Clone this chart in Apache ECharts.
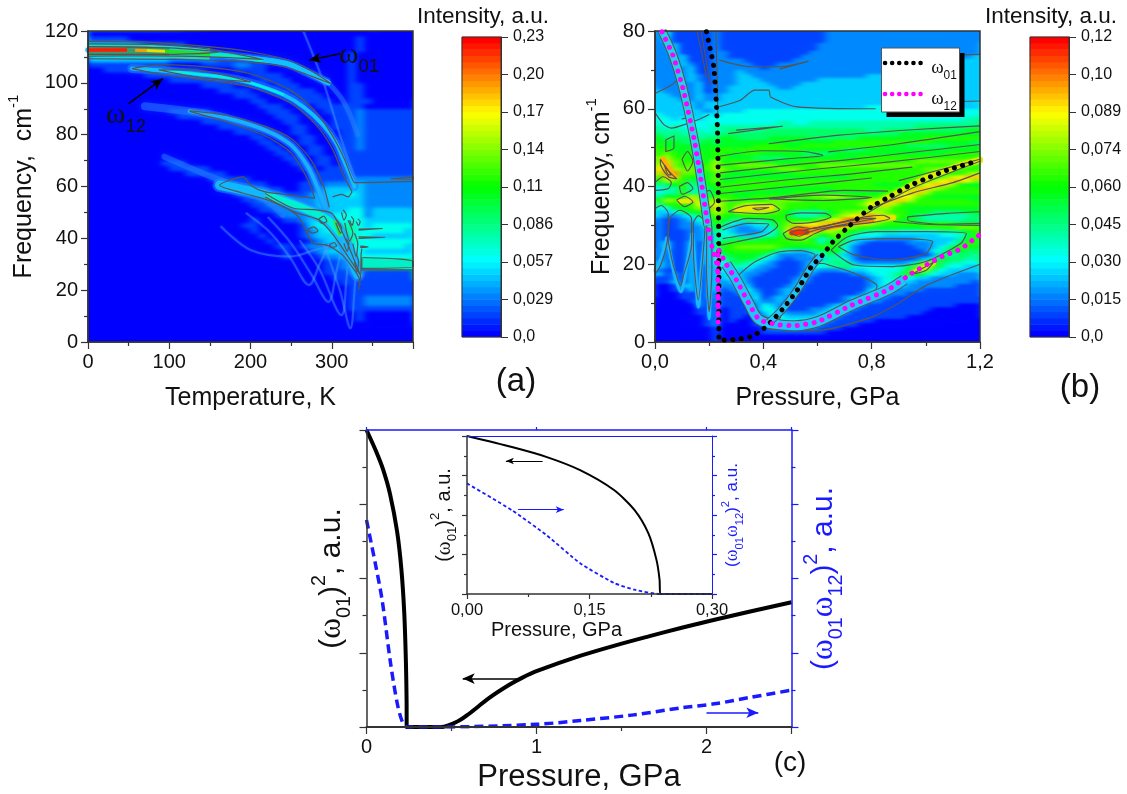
<!DOCTYPE html>
<html><head><meta charset="utf-8">
<style>html,body{margin:0;padding:0;background:#fff}
#c{position:absolute;left:0;top:0;width:1127px;height:794px}
.clip{position:absolute;overflow:hidden;width:325px;height:311px;top:31px}
.soft{position:absolute;left:-20px;top:-20px;width:365px;height:351px}
</style>
<script src="https://cdn.jsdelivr.net/npm/echarts@6/dist/echarts.min.js"></script></head>
<body>
<svg width="0" height="0" style="position:absolute"><defs>
<filter id="fA" x="-10%" y="-10%" width="120%" height="120%" color-interpolation-filters="sRGB"><feGaussianBlur stdDeviation="3 1.5"/></filter>
<filter id="fB" x="-10%" y="-10%" width="120%" height="120%" color-interpolation-filters="sRGB"><feGaussianBlur stdDeviation="3.5 1.1"/></filter>
</defs></svg>
<div class="clip" style="left:88px"><div class="soft" id="heatA" style="filter:url(#fA)"></div></div>
<div class="clip" style="left:655px"><div class="soft" id="heatB" style="filter:url(#fB)"></div></div>
<div id="c"></div>
<script>
// ---------- Panel (a) intensity levels: hex digit = n/15 of the scale max. Rows from f=119 down, 2 cm-1 each; columns 10 K each
const rowsA=[
"0000000000 0000000000 0000000000 0000000000",
"1111100000 0000000000 0000000000 0001000000",
"3333332111 1100000000 0000000000 0001000000",
"4444444444 3321100000 0000000000 0001000000",
"4444444444 3332211100 0000000000 0010000000",
"3333333333 2222221111 0000000000 0010000000",
"1111111111 0000111122 1100000000 0010000000",
"0011111111 1111000011 1100000000 0010000000",
"0000000111 1111100000 1111000000 0010000000",
"0000000000 1111111000 0111100000 0010000000",
"0000000000 0000111100 0001110000 0011000000",
"0000000000 0000001111 0000111100 0011000000",
"0000000000 0000000011 1000011110 0011000000",
"0000000000 0000000000 1100001111 0011100000",
"0000000000 0000000000 0111000011 1111000000",
"0000000000 1111100000 0011100001 1112111111",
"0000000000 0111111000 0001110000 1112111111",
"0000000000 0000111110 0000110000 1112111111",
"0000000000 0000001111 0000011000 1112111111",
"0000000000 0000000011 1000011000 0112111111",
"0000000000 0000000000 1100001100 0112111111",
"0000000000 0000000000 0110001100 0112111111",
"0000000000 0000000000 0011000110 0112111111",
"0000000000 0000000000 0001100110 0111111111",
"0000000000 0000000000 0000110011 0111111111",
"0000000001 1100000000 0000011011 0111111111",
"0000000000 1111100000 0000001101 1111111111",
"0000000000 0011111000 0000000111 1111111111",
"0000000000 0000011111 0000000111 1122222222",
"0000000000 0000001111 1100001112 2223222222",
"0000000000 0000000111 1211001123 3333222222",
"0000000000 0000000011 2222111233 3343222222",
"0000000000 0000000001 1222222233 3333222222",
"0000000000 0000000000 1122222233 3333222222",
"0000000000 0000000000 0112222333 3344233333",
"0000000000 0000000000 0001222333 4444233333",
"0000000000 0000000000 1000112344 4444333333",
"0000000000 0000000001 1000001344 4554344444",
"0000000000 0000000000 1000001234 4554444443",
"0000000000 0000000000 0100001233 4554433333",
"0000000000 0000000000 0010000123 3454444444",
"0000000000 0000000000 0001101222 3444444443",
"0000000000 0000000000 0000100123 3344333333",
"0000000000 0000000000 0000100012 2334444444",
"0000000000 0000000000 0000000001 1234566666",
"0000000000 0000000000 0000000001 1223566665",
"0000000000 0000000000 0000000001 1122111111",
"0000000000 0000000000 0000000000 1111111111",
"0000000000 0000000000 0000000000 0111111111",
"0000000000 0000000000 0000000000 0011111111",
"0000000000 0000000000 0000000000 0011111111",
"0000000000 0000000000 0000000000 0011222222",
"0000000000 0000000000 0000000000 0011222222",
"0000000000 0000000000 0000000000 0011111111",
"0000000000 0000000000 0000000000 0001000000",
"0000000000 0000000000 0000000000 0001000000",
"0000000000 0000000000 0000000000 0000000000",
"0000000000 0000000000 0000000000 0000000000",
"0000000000 0000000000 0000000000 0000000000",
"0000000000 0000000000 0000000000 0000000000"];
// ---------- Panel (b) intensity levels. Rows from f=79.5 down, 1 cm-1 each; columns 0.03 GPa each
const rowsB=[
"24111112 11 111111 111112 222222 222222 222222",
"23111112 11 111111 111112 222222 222222 222222",
"23111112 11 111111 111112 222222 222222 222222",
"22311112 11 111111 111122 222222 222222 222222",
"22311112 11 111111 111122 222222 222222 222222",
"22311112 21 111111 111222 222222 222222 222222",
"22231112 21 111111 112222 222222 222222 222223",
"22231112 22 211111 122222 222222 222222 222333",
"22232112 22 221112 222222 222222 222222 233333",
"22223112 22 222122 222222 222222 222233 333333",
"22223112 22 322222 222222 222222 223333 333333",
"22223212 22 332222 222222 222233 333333 333333",
"22223212 22 333222 222233 333333 333333 333333",
"22222312 22 333322 223333 333333 333333 333333",
"22222312 23 333332 233333 333333 333333 333333",
"32222312 23 333333 333333 333333 333333 333333",
"33222322 33 333333 333333 333333 333333 333333",
"33322322 33 333333 333333 333333 333333 333333",
"33333233 33 333333 333333 333333 333333 333333",
"33333233 33 333333 333333 333344 444444 433333",
"33333323 33 344444 444444 444444 444444 444444",
"43333343 44 444444 444444 444444 444444 444444",
"44344344 44 444444 444444 444444 444444 444455",
"44444444 44 444445 544555 555555 555555 555555",
"54544445 55 555555 555555 555555 555566 666666",
"55554545 56 655666 666666 666655 666666 666677",
"65655555 66 666666 666666 666666 667777 777777",
"76666566 77 666677 777666 666777 777778 888888",
"77766676 77 777777 777777 888888 888888 777776",
"87777777 77 778888 778888 888888 777666 667777",
"88777778 88 888888 887777 766677 777777 777777",
"89878878 87 788777 776666 777777 777777 778888",
"9a887878 87 776666 777777 777888 888888 888888",
"9c98887a 78 888777 778888 888888 888899 999999",
"ac98988a 88 999998 888899 999999 999988 888888",
"bda9998a 98 888889 998888 888888 888889 998888",
"add99879 87 777777 788888 888888 888888 88889a",
"8cc88779 77 777777 777777 778888 888888 89abcc",
"7a986779 77 888888 888888 888888 888889 abccb9",
"56785678 88 888888 888888 888887 77789b cca877",
"45585567 88 888877 777777 888888 889acc a98888",
"45585567 87 777777 788887 777777 89bcca 888888",
"5778a968 88 778888 88899a a98888 abbb98 777777",
"7a98ca9a 98 888899 998888 8888aa bcca88 888887",
"58888b9b 98 9aaa99 888888 8889bc ca8888 888888",
"44778a8c 98 bcdca9 888788 888899 a88777 777777",
"3346778a 98 9aaa98 755557 899aaa 988777 666677",
"32234679 87 888888 755567 9abcdc a98765 555556",
"21123468 76 566678 88789a bdedcb 987765 555566",
"21122358 64 334468 9abbcc ddcba9 888888 888777",
"21122247 53 223358 addccc ba9887 777778 888999",
"21112236 43 222347 bfdb9a 987655 554444 455678",
"21112235 45 333457 9cb978 985444 333333 344468",
"21112235 56 666778 899746 864332 222233 333578",
"23113135 78 888888 888857 853211 111222 334688",
"23113135 88 999998 777788 742111 111122 346887",
"22113135 78 888875 433567 742111 111112 457766",
"22113134 67 777642 222346 532111 111111 365665",
"22113134 56 776432 122235 542111 111123 576655",
"32113134 46 654321 112355 653222 22236a 865544",
"32113123 45 543221 112445 565444 44569b 854433",
"21113123 44 332211 112322 233344 4458a9 543333",
"31213123 34 322111 113211 112234 456875 433222",
"11213123 34 321111 123111 111123 455433 222222",
"11313123 23 421111 132111 111123 443322 222221",
"00133123 22 331111 231111 111123 433222 222111",
"00113123 12 242112 321111 111134 322221 111111",
"00011122 11 233112 311111 111243 222111 111111",
"00011122 11 124123 211111 123432 211111 111111",
"00001212 11 113223 111111 123422 111111 111111",
"00000212 11 112432 111112 343211 111111 111000",
"00000112 01 112442 111223 432111 111111 000000",
"00000112 01 111343 222234 321111 111110 000000",
"00000012 01 101244 333343 211111 111000 000000",
"00000012 01 001234 444432 111110 000000 000000",
"00000012 00 001133 444321 111000 000000 000000",
"00000001 00 000122 332211 100000 000000 000000",
"00000001 00 000111 111110 000000 000000 000000",
"00000001 00 000000 000000 000000 000000 000000",
"00000001 00 000000 000000 000000 000000 000000"];

// ---------- Colorbar tick labels
const ticksBarA=['0,0','0,029','0,057','0,086','0,11','0,14','0,17','0,20','0,23'];
const ticksBarB=['0,0','0,015','0,030','0,045','0,060','0,074','0,089','0,10','0,12'];

// ---------- Panel (a) ridges [T, frequency]
const ridgeA1=[[0,112.7],[50,112.6],[100,112],[150,111],[200,109.5],[244,107.5],[270,104],[296,100]];
const ridgeA1Tail=[[296,100],[312,94],[322,88],[332,80]];
const ridgeA1Hot=[[0,112.7],[50,112.6],[100,112],[150,111]];
const ridgeA1Red=[[0,112.7],[48,112.7]];
const ridgeA1Orange=[[58,112.6],[72,112.5]];
const ridgeA1Yellow=[[72,112.5],[95,112.2]];
const ridgeA1Green=[[95,112.2],[150,111],[175,110.3]];
const ridgeA1Cyan=[[150,111],[190,109.8],[215,108.6]];
const ridgeA2=[[54,105.5],[90,104.8],[130,103.5],[170,102],[200,100],[240,95.5],[266,90.5],[290,83.5],[305,77],[315,70],[323,64],[328,60]];
const ridgeA3=[[70,91],[125,89],[170,86.5],[220,81.5],[250,76],[270,68],[282,60],[292,52]];
const ridgeA4=[[162,60.5],[222,56.5],[262,52],[296,47],[310,42],[320,35],[332,26]];
const ridgeA5=[[94,71.5],[150,64],[200,58],[222,54],[240,49]];
const arcsA=[
[[195,49.6],[225,42],[250,32],[272,22],[285,30],[296,37.4]],
[[222,48],[250,38],[275,26],[296,15.5],[305,26],[312,36.7]],
[[261,39],[285,28],[312,10.4],[318,24],[321,37]],
[[290,38],[310,20],[323,5.3],[328,20],[331,34]],
[[164,44.5],[200,35.5],[248,33],[285,36],[320,38]],
[[265,120],[290,100],[312,78],[330,62]]];
const plateauA=[[337,30.6],[384,30.3],[400,30]];
const contoursA=[
[[0,116],[67,115.8],[155,113.8],[200,112],[244,109],[270,105.5],[299,99.7],[288,101],[244,106],[200,108],[111,109],[0,109.3]],
[[0,115],[80,114.8],[150,113],[215,109],[150,110],[80,110.4],[0,110.3]],
[[0,114],[100,113.5],[160,111.8],[100,111],[0,111]],
[[54,105.5],[90,107],[150,106],[200,103.5],[250,97],[280,89],[300,80],[315,71],[325,63],[328,61.5],[400,62]],
[[54,105.5],[90,103.3],[150,100.8],[200,98.3],[250,92],[280,84],[300,75],[315,64],[325,58]],
[[87,105],[130,105],[200,100.4],[138,102],[87,105]],
[[372,63],[400,63.6],[400,62.8],[372,63]],
[[125,89.2],[170,87.5],[220,83],[250,78.5],[275,70],[290,60],[297,52]],
[[125,89],[170,85],[220,79.3],[250,73],[270,63],[279,55.5]],
[[279,55.4],[240,57],[217,58],[200,60.5],[191,63.7],[162,60.5],[190,57.5],[222,54.7],[257,49],[270,41.9],[277,38],[294,37.4],[313,33.6],[325,29],[333,25.2],[335,22]],
[[301,56],[312,57],[320,56],[325,58]],
[[218,57.3],[253,51.6],[281,51],[300,49.7],[310,44.5],[322,36],[335,26],[320,33],[305,40],[285,47],[255,50],[218,56]],
[[284,47.4],[290,48.6],[294,46.6],[288,45.8],[284,47.4]],
[[270,43.4],[278,44.4],[283,42.8],[276,42],[270,43.4]],
[[297,37.5],[303,38.4],[306,37],[300,36.5],[297,37.5]],
[[305,46],[311,42],[312,44],[306,47]],
[[316,46],[322,39],[326,42],[320,47]],
[[326,38],[330,33],[332,38],[328,42]],
[[312,50],[315,47],[318,49],[314,51]],
[[322,47],[325,45],[327,47],[324,48.5]],
[[330,46.5],[333,45],[335,46.5],[332,47.5]],
[[315,38],[319,35],[321,38],[317,40]],
[[328,31],[331,27],[333,31],[330,34]],
[[333,43.6],[362,43.8],[333,43.2]],
[[333,40.6],[366,40.4],[333,40]],
[[335,37],[345,36.7],[335,36.5]],
[[338,32.6],[384,32],[400,31],[400,29],[337,28.4],[337,32.6]],
[[336,27.8],[400,27.8]],
[[333,20],[336,28],[336,33],[337,36]]];

// ---------- Panel (b) dispersion curves [pressure, frequency]
const omega01B=[[.19,79.8],[.205,75],[.217,70.8],[.226,62],[.231,53.6],[.234,36.5],[.236,19.4],[.236,.5],[.3,.7],[.355,1.4],[.394,3],[.434,5.6],[.473,8.6],[.526,13.4],[.578,19.4],[.624,22.8],[.657,25.8],[.72,30],[.8,34.8],[.867,37.4],[.933,40],[1,42],[1.078,44.2],[1.183,46.4]];
const omega12B=[[.026,79.8],[.066,73.8],[.105,64.8],[.145,52],[.17,41.6],[.204,26.2],[.23,19.4],[.233,5],[.233,24],[.263,20],[.3,16],[.346,10],[.385,5.7],[.46,4.4],[.516,4.2],[.6,5.2],[.727,9.5],[.86,13.4],[.946,17.6],[1.06,22],[1.13,24],[1.197,27.5]];
const bandB12Upper=[[.026,80],[.066,73.8],[.105,64.8],[.145,52],[.17,41.6],[.195,30]];
const bandB12Low=[[.263,20],[.3,16],[.346,10],[.385,5.7],[.46,4.4],[.516,4.2],[.6,5.2],[.727,9.5],[.86,13.4],[.92,16]];
const bandB01Low=[[.42,5],[.473,8.6],[.526,13.4],[.578,19.4],[.61,22]];
const hotRedB=[[.505,28.1],[.56,28.3]];
const hotOrangeB=[[.56,28.5],[.66,29.8],[.74,30.8],[.8,31.4]];
const hotYellowB=[[.8,31.5],[.88,32]];
const yellowRidgeB=[[.82,35.4],[.9,38.4],[1,42.2],[1.1,44.8],[1.2,46.8]];
const yellowBandB=[[.3,34],[.35,34.5],[.43,34.6]];
const yellowPatchB=[[.95,17.9],[1.03,20.2]];
const hotLeftB=[[.03,47],[.05,44.5],[.07,42.6]];
const yellowLeftB=[[.09,36.2],[.125,36.2]];
const archesB=[
[[0,18],[.02,21],[.045,27]],
[[.045,27],[.07,18],[.095,13],[.115,19],[.138,28]],
[[.138,28],[.15,18],[.16,9],[.17,18],[.187,28]],
[[.187,28],[.195,16],[.2,6],[.205,16],[.212,28]]];
const contoursB=[
[[.302,16.8],[.368,20.6],[.46,23.2],[.539,23.5],[.591,22.4],[.585,21.5],[.526,15],[.46,8.2],[.434,5.7],[.381,6.9],[.342,11.7],[.302,16.8]],
[[.624,20.2],[.736,17.7],[.815,15],[.82,14.2],[.736,9.9],[.631,6.5],[.526,5.2],[.46,5.7],[.473,7.8],[.552,15],[.605,20.2],[.624,20.2]],
[[.65,23.6],[.71,27],[.815,28.4],[1,28.4],[1.15,27.9],[1.13,25.4],[1,20.7],[.867,19.4],[.736,19.8],[.65,23.6]],
[[.677,24.5],[.736,26.2],[.867,26.6],[1.025,25.8],[1,22.8],[.867,21.1],[.736,22.4],[.677,24.5]],
[[.243,29.6],[.342,31.8],[.434,31.4],[.453,30],[.407,27.5],[.302,25.8],[.243,24.9]],
[[.25,28.8],[.342,30.5],[.42,30.3],[.394,28.4],[.302,27.2],[.25,26.6]],
[[.484,32.6],[.539,33.2],[.63,33.1],[.65,32.2],[.591,30.9],[.513,30.5],[.484,31.8],[.484,32.6]],
[[.933,32.2],[1.078,33.1],[1.2,33.5]],[[1.2,30.5],[1.065,30.3],[.933,31.4],[.933,32.2]],
[[.473,27.9],[.526,29.6],[.578,29.2],[.67,30.5],[.775,32.2],[.84,32.6],[.867,31.8],[.775,30.5],[.657,29.6],[.591,27.9],[.539,26.2],[.486,26.6],[.473,27.9]],
[[.5,28.1],[.532,28.8],[.565,28.4],[.532,27.2],[.5,28.1]],
[[.552,28.8],[.657,30.3],[.789,31.8],[.815,31.8],[.736,30.7],[.605,29],[.552,27.9]],
[[.24,43.5],[.5,45.5],[.7,46.8],[.95,48.8],[1.2,50.8]],
[[.24,45.5],[.5,47.2],[.62,48],[.55,49],[.4,49.2],[.24,47.8]],
[[.27,53.6],[.47,55.5],[.3,54.5]],
[[.64,48.9],[.9,51],[1.2,54.1]],
[[.42,51],[.68,53.2],[.95,54.6],[1.2,55.6]],
[[.24,41.8],[.6,44.5],[.85,46.2],[1.2,49]],
[[.24,39.8],[.5,41.8],[.72,43.2],[.9,44.6],[.95,45]],
[[.24,38.2],[.5,40],[.8,42.2]],
[[.24,36.2],[.45,37.2],[.7,39],[.86,38.8]],
[[.42,36.8],[.62,37.8],[.8,37.2],[.62,36.4],[.42,36.8]],
[[.27,33.5],[.33,35],[.43,35.4],[.46,34],[.4,33],[.27,33.5]],
[[.36,34.4],[.42,34.6],[.38,34],[.36,34.4]],
[[.78,33],[.9,37.8],[.98,40.5],[1.2,46.5]],
[[.8,34.5],[.95,38.3],[1.1,41],[1.2,43.5]],
[[.9,41.5],[1.08,44.8],[1.2,47]],
[[.88,31],[1,30.3],[1.2,30]],
[[.42,3.3],[.6,3],[.8,6.4],[.9,10],[1,14.5],[1.2,20]],
[[.95,17.5],[1.03,20.6],[1,18.4],[.95,17.5]],
[[0,63.9],[.048,65.6],[.067,66.4],[.09,68]],
[[.237,72.5],[.355,70.8],[.46,70.8],[.565,72.2],[.46,70.2]],
[[.237,60.5],[.315,62.2],[.368,64.8],[.42,64.8],[.427,63],[.526,60.5],[.815,60]],
[[1.1,73.8],[1.2,74]],
[[.85,60],[1,61.5],[1.2,62]],
[[0,59],[.032,56],[.06,55],[.12,56.2],[.17,57.5],[.2,58.5]],
[[.12,61],[.13,58],[.1,57.4],[.13,57.8]],
[[0,41],[.03,42.5],[.06,41],[.05,39.5],[0,39]],
[[.09,40],[.12,41],[.14,39.5],[.1,38],[.09,40]],
[[.02,47],[.05,44],[.08,42],[.05,42.5],[.02,46],[.02,47]],
[[.035,45.5],[.06,43],[.05,43],[.035,45.5]],
[[.08,36.5],[.11,37.5],[.14,36],[.11,34.8],[.08,36.5]],
[[.1,47],[.12,49],[.14,46.5],[.12,44],[.1,47]],
[[.04,52],[.07,53],[.07,50],[.04,49],[.04,52]],
[[.15,46],[.17,47],[.18,44],[.16,43],[.15,46]],
[[.17,38],[.2,39],[.22,36],[.19,34],[.17,38]],
[[0,34.3],[.023,35.1],[.049,33],[.045,25.8],[.02,19.6],[0,17.5]],
[[.049,25.8],[.055,31.7],[.092,33.9],[.135,31.7],[.135,25],[.105,17],[.095,14.5],[.068,19.6],[.049,25.8]],
[[.142,30.8],[.16,32.5],[.185,30.8],[.178,23],[.16,10.8],[.142,23],[.142,30.8]],
[[.191,30],[.2,30.8],[.21,29.6],[.21,18.9],[.2,7.8],[.19,18.9],[.191,30]],
[[.155,80],[.185,70],[.19,68]],[[.17,80],[.195,70],[.205,66]],[[.225,80],[.23,66],[.232,58]]];

// ---------- Panel (c)
const cBlackP=[0,.055,.097,.1385,.18,.205,.222,.232,.2358,.2366,.44,.54,.6,.72,.84,.92,1,1.26,1.46,1.66,1.86,2.06,2.5];
const cBlackY=[1,.93,.868,.784,.658,.532,.385,.216,.09,0,0,.02,.043,.097,.142,.167,.188,.24,.274,.305,.335,.363,.42];
const cBlueP=[0,.052,.092,.142,.181,.211,.2366,.44,1,1.26,1.56,1.86,2.06,2.26,2.5];
const cBlueY=[.697,.55,.427,.213,.079,.017,0,0,.009,.022,.04,.065,.079,.1,.124];
const insetBlackP=[0,.055,.097,.1385,.18,.205,.222,.232,.2358,.2366,.3];
const insetBlackY=[1,.93,.868,.784,.658,.532,.385,.216,.09,0,0];
const insetBlueP=[0,.055,.097,.1385,.18,.205,.2366,.3];
const insetBlueY=[.7,.53,.374,.195,.07,.027,0,0];

const RAMP=['#0000ff','#00ffff','#00ff00','#ffff00','#ff0000'];
const SANS='"Liberation Sans",Arial,sans-serif', SERIF='"Liberation Serif",serif';
const zip=(a,b)=>a.map((v,i)=>[v,b[i]]);
const comma=d=>v=>v.toFixed(d).replace('.',',');
function cells(rows,max){
  const clean=rows.map(r=>r.replace(/ /g,'')).reverse(),out=[];
  clean.forEach((r,y)=>[...r].forEach((c,x)=>out.push([x,y,parseInt(c,16)/15*max])));
  return out;
}
const idx=n=>Array.from({length:n},(_,i)=>i);
const barCells=(n,max)=>idx(n).map(i=>[0,i,i/(n-1)*max]);
const heat=(xi,yi,data)=>({type:'heatmap',xAxisIndex:xi,yAxisIndex:yi,data,silent:true,animation:false,progressive:0,emphasis:{disabled:true},z:2});
const L=(xi,yi,data,color,width,o={})=>({type:'line',xAxisIndex:xi,yAxisIndex:yi,data,symbol:'none',showSymbol:false,smooth:o.smooth===undefined?0.35:o.smooth,silent:true,animation:false,z:o.z||3,markLine:o.markLine,lineStyle:Object.assign({color,width,cap:o.cap||'butt',join:'round',type:o.type||'solid',shadowBlur:o.blur||0,shadowColor:o.blur?color:'transparent'})});
const arrow=(from,to,color,w,size)=>({silent:true,animation:false,symbol:['none','arrow'],symbolSize:size||[8,12],label:{show:false},lineStyle:{color,type:'solid',width:w||1.5},data:[[{coord:from},{coord:to}]]});

// Soft field layers: each panel's intensity matrix drawn by its own heatmap beneath the axes
function softField(id,rows,max,nx,ny){
  const c=echarts.init(document.getElementById(id),null,{renderer:'canvas'});
  const cat=(g,n)=>({type:'category',gridIndex:g,data:idx(n),show:false});
  c.setOption({animation:false,
    grid:[{left:0,top:0,right:0,bottom:0},{left:20,top:20,width:325,height:311}],
    xAxis:[cat(0,nx),cat(1,nx)],yAxis:[cat(0,ny),cat(1,ny)],
    series:[heat(0,0,cells(rows,max)),Object.assign(heat(1,1,cells(rows,max)),{z:3})],
    visualMap:[{type:'continuous',show:false,min:0,max,seriesIndex:[0,1],inRange:{color:RAMP}}]});
}
softField('heatA',rowsA,.23,40,60);
softField('heatB',rowsB,.12,40,80);

// Axes --------------------------------------------------------------
const tickText=(size,color)=>({fontFamily:SANS,fontSize:size,color:color||'#111'});
function valAxis(grid,pos,min,max,interval,minor,o={}){
  const col=o.color||'#333';
  return {type:'value',gridIndex:grid,position:pos,min,max,interval,scale:false,splitLine:{show:false},
    axisLine:{show:true,onZero:false,lineStyle:{color:col,width:o.lw||1.5}},
    axisTick:{show:true,length:o.tick||7,lineStyle:{color:col,width:1.2}},
    minorTick:{show:true,splitNumber:minor,length:o.minorTick||4,lineStyle:{color:col,width:1.2}},minorSplitLine:{show:false},
    axisLabel:{show:o.labels!==false,margin:o.margin||10,...tickText(o.size||20,o.labelColor),formatter:o.fmt||(v=>String(v)),hideOverlap:false,showMinLabel:true,showMaxLabel:o.noMax?false:true},
    name:o.name,nameLocation:'middle',nameGap:o.gap,nameRotate:o.rot,
    nameTextStyle:Object.assign({fontFamily:SANS,fontSize:o.nameSize||25,color:o.nameColor||'#111'},o.nameStyle||{}),z:5};
}
const catHidden=(grid,n,pos)=>({type:'category',gridIndex:grid,data:idx(n),show:false,position:pos});
const barAxis=(grid,labels)=>({type:'category',gridIndex:grid,position:'right',data:labels,boundaryGap:false,
  axisLine:{show:true,lineStyle:{color:'#333',width:1}},axisTick:{show:true,length:7,alignWithLabel:true,lineStyle:{color:'#333',width:1}},
  axisLabel:{show:true,interval:0,margin:12,...tickText(16)},splitLine:{show:false},z:5});
const subRich=(size,color)=>({w:{fontFamily:SERIF,fontSize:size*1.05,color,lineHeight:size*1.5},s:{fontFamily:SANS,fontSize:size*.66,color,lineHeight:size*1.5,verticalAlign:'bottom'},t:{fontFamily:SANS,fontSize:size,color,lineHeight:size*1.5},p:{fontFamily:SANS,fontSize:size*.66,color,lineHeight:size*1.5,verticalAlign:'top'}});
const supFreq={rich:{p:{fontFamily:SANS,fontSize:15,verticalAlign:'top',lineHeight:34,color:'#111'}},lineHeight:34};

const xAxis=[
 valAxis(0,'bottom',0,400,100,2,{name:'Temperature, K',gap:44,noMax:true}),        //0
 catHidden(1,1,'bottom'),                                                          //1
 valAxis(2,'bottom',0,1.2,.4,2,{name:'Pressure, GPa',gap:44,fmt:comma(1)}),        //2
 catHidden(3,1,'bottom'),                                                          //3
 valAxis(4,'bottom',0,2.5,1,2,{name:'Pressure, GPa',gap:35,nameSize:31,lw:2,noMax:true}),  //4
 valAxis(4,'top',0,2.5,1,2,{labels:false,color:'#1a1aff',tick:3,minorTick:0.01,lw:1.5}),   //5
 valAxis(5,'bottom',0,.3,.15,2,{name:'Pressure, GPa',gap:26,nameSize:20,size:16.5,margin:8,fmt:comma(2),tick:5,minorTick:3,nameStyle:{padding:[0,66,0,0]}}),  //6
 valAxis(5,'top',0,.3,.15,2,{labels:false,color:'#1a1aff',tick:0.01,minorTick:0.01,lw:1})  //7
];
const yAxis=[
 valAxis(0,'left',0,120,20,2,{name:'Frequency,  cm{p|-1}',gap:41,rot:90,nameStyle:supFreq}), //0
 catHidden(1,48,'left'),                                                            //1
 barAxis(1,ticksBarA),                                                              //2
 valAxis(2,'left',0,80,20,2,{name:'Frequency, cm{p|-1}',gap:36,rot:90,nameStyle:supFreq}),   //3
 catHidden(3,48,'left'),                                                            //4
 barAxis(3,ticksBarB),                                                              //5
 valAxis(4,'left',0,1,.25,2,{labels:false,lw:1.5,name:'{t|(}{w|ω}{s|01}{t|)}{p|2}{t|, a.u.}',gap:12,rot:90,nameStyle:{rich:subRich(30,'#111')}}), //6
 valAxis(4,'right',0,1,.25,2,{labels:false,color:'#1a1aff',lw:1.5,name:'{t|(}{w|ω}{s|01}{w|ω}{s|12}{t|)}{p|2}{t|, a.u.}',gap:10,rot:90,nameStyle:{rich:subRich(30,'#1a1aff')}}), //7
 valAxis(5,'left',0,1,.25,2,{labels:false,tick:5,minorTick:3,name:'{t|(}{w|ω}{s|01}{t|)}{p|2}{t|, a.u.}',gap:8,rot:90,nameStyle:{rich:subRich(20,'#111')}}), //8
 valAxis(5,'right',0,1,.25,2,{labels:false,color:'#1a1aff',tick:5,minorTick:3,lw:1,name:'{t|(}{w|ω}{s|01}{w|ω}{s|12}{t|)}{p|2}{t|, a.u.}',gap:8,rot:90,nameStyle:{rich:subRich(17,'#1a1aff')}}) //9
];
const grid=[
 {left:88,top:31,width:325,height:311,show:true,borderColor:'#333',borderWidth:1.5,z:6},
 {left:462,top:37,width:39,height:300,show:true,borderColor:'#333',borderWidth:1,z:6},
 {left:655,top:31,width:325,height:311,show:true,borderColor:'#333',borderWidth:1.5,z:6},
 {left:1030,top:37,width:39,height:300,show:true,borderColor:'#333',borderWidth:1,z:6},
 {left:366.5,top:430,width:425,height:297},
 {left:467,top:436,width:245,height:158}
];

// Series ------------------------------------------------------------
const series=[heat(1,1,barCells(48,.23)),heat(3,4,barCells(48,.12))];
const HALO='rgba(40,130,255,.5)', FAINT='rgba(70,160,255,.42)';
const A=(d,c,w,o)=>L(0,0,d,c,w,o);
arcsA.forEach(d=>series.push(A(d,FAINT,2.2,{blur:3,cap:'round'})));
series.push(
 A(ridgeA5,HALO,6,{blur:7,cap:'round'}),
 A(ridgeA3,HALO,8,{blur:7,cap:'round'}),A(ridgeA3.slice(1),'#18b0ff',3.5,{blur:2,cap:'round'}),
 A(ridgeA2,HALO,9,{blur:7,cap:'round'}),A(ridgeA2,'#10c0ff',3.5,{blur:1,cap:'round'}),A(ridgeA2.slice(1,6),'#00f0e0',2.2,{cap:'round'}),
 A(ridgeA1Tail,HALO,5,{blur:5,cap:'round'}),
 A(ridgeA1,HALO,9,{blur:7}),A(ridgeA1,'#10c0ff',5,{blur:1,cap:'round'}),A(ridgeA1Hot,'#18d8c8',12),A(ridgeA1Hot.slice(0,3),'#3a9a70',8),
 A(ridgeA1Red,'#ff1a00',3.5,{smooth:0}),A(ridgeA1Orange,'#ff9a00',3,{smooth:0}),A(ridgeA1Yellow,'#e8e000',3,{smooth:0}),A(ridgeA1Green,'#20e020',3.5),A(ridgeA1Cyan,'#00f0c0',3.5),
 A(ridgeA4,HALO,14,{blur:7,cap:'round'}),A(ridgeA4,'#10b8ff',9,{blur:2,cap:'round'}),A(ridgeA4.slice(1,5),'#00f0d0',7,{smooth:.2,cap:'round'}),
 A(plateauA,'#00f0c8',11,{smooth:0}),
 A([[304,47],[310,41]],'#30e040',3,{smooth:0})
);
contoursA.forEach(d=>series.push(A(d,'#555',1.2,{z:4,smooth:.25})));
series.push(L(0,0,[[310,111.2],[272,108.7]],'transparent',0,{z:7,smooth:0,markLine:arrow([310,111.2],[272,108.7],'#000',1.5)}));
series.push(L(0,0,[[50,92],[92,101.6]],'transparent',0,{z:7,smooth:0,markLine:arrow([50,92],[92,101.6],'#000',1.5)}));
const B=(d,c,w,o)=>L(2,3,d,c,w,o);
archesB.forEach(d=>series.push(B(d,'#18b8ff',3,{z:3,blur:2})));
series.push(
 B(yellowRidgeB,'#d8f000',6,{z:3,cap:'round',blur:3}),B(yellowBandB,'#e8e800',5,{z:3,cap:'round',blur:3}),
 B(yellowPatchB,'#c8f000',4,{z:3,cap:'round'}),B(yellowLeftB,'#e8e800',4,{z:3,cap:'round',blur:2}),
 B(hotLeftB,'#ffb000',5,{z:3,cap:'round',blur:2}),
 B(hotYellowB,'#f0e000',5,{z:3,cap:'round',blur:2}),B(hotOrangeB,'#ff9000',5,{z:3,cap:'round',blur:2}),B(hotRedB,'#ff3000',5,{z:3,cap:'round',blur:2,smooth:0})
);
contoursB.forEach(d=>series.push(B(d,'#555',1.15,{z:4,smooth:.25})));
series.push(
 B(bandB12Upper,'#555',9,{z:4}),B(bandB12Upper,'#18d8e8',7,{z:4}),
 B(bandB12Low,'#555',11,{z:4}),B(bandB12Low,'#18c8ff',9,{z:4}),
 B(bandB01Low,'#555',8,{z:4}),B(bandB01Low,'#18c8ff',6,{z:4}),
 B(omega01B,'#000',5,{z:6,type:[.1,8.4],cap:'round',smooth:.2}),
 B(omega12B,'#ff00ff',5,{z:6,type:[.1,8.4],cap:'round',smooth:.15})
);
series.push(
 L(4,6,zip(cBlackP,cBlackY),'#000',4,{z:4,smooth:.3,markLine:arrow([.893,.163],[.566,.163],'#000',1.5)}),
 L(4,7,zip(cBlueP,cBlueY),'#1a1aff',3.5,{z:4,smooth:.3,type:[9,5],markLine:arrow([2,.048],[2.305,.048],'#1a1aff',1.5)}),
 L(6,8,zip(insetBlackP,insetBlackY),'#000',2,{z:4,smooth:.25,markLine:arrow([.0926,.842],[.0476,.842],'#000',1,[5,8])}),
 L(6,9,zip(insetBlueP,insetBlueY),'#1a1aff',1.8,{z:4,smooth:.2,type:[3.5,2.5],markLine:arrow([.0626,.5336],[.1185,.5336],'#1a1aff',1,[5,8])})
);

// Text / legend ------------------------------------------------------
const T=(x,y,text,size,o={})=>({type:'text',x,y,z:20,silent:true,style:Object.assign({text,fontFamily:SANS,fontSize:size,fill:'#111',align:'center',verticalAlign:'middle'},o)});
const graphic=[
 T(483,17,'Intensity, a.u.',22.5),T(1051,17,'Intensity, a.u.',22.5),
 T(516,382,'(a)',33),T(1080,388,'(b)',33),T(790,763,'(c)',28),
 T(359,55,'{w|ω}{s|01}',28,{rich:subRich(28,'#111')}),
 T(126,115,'{w|ω}{s|12}',28,{rich:subRich(28,'#111')}),
 {type:'rect',z:20,silent:true,shape:{x:886.5,y:53,width:78,height:64},style:{fill:'#000'}},
 {type:'rect',z:21,silent:true,shape:{x:881.5,y:48,width:78,height:64},style:{fill:'#fff',stroke:'#555',lineWidth:1}},
 {type:'line',z:22,silent:true,shape:{x1:885,y1:63,x2:927,y2:63},style:{stroke:'#000',lineWidth:4.5,lineCap:'round',lineDash:[.1,7]}},
 {type:'line',z:22,silent:true,shape:{x1:885,y1:94,x2:927,y2:94},style:{stroke:'#ff00ff',lineWidth:4.5,lineCap:'round',lineDash:[.1,7]}},
 Object.assign(T(944,68,'{w|ω}{s|01}',18,{rich:subRich(18,'#111')}),{z:22}),
 Object.assign(T(944,99,'{w|ω}{s|12}',18,{rich:subRich(18,'#111')}),{z:22})
];

const chart=echarts.init(document.getElementById('c'),null,{renderer:'canvas'});
chart.setOption({animation:false,backgroundColor:'transparent',textStyle:{fontFamily:SANS},
 grid,xAxis,yAxis,series,graphic,
 visualMap:[
  {type:'continuous',show:false,min:0,max:.23,seriesIndex:[0],inRange:{color:RAMP}},
  {type:'continuous',show:false,min:0,max:.12,seriesIndex:[1],inRange:{color:RAMP}}
 ]});
</script></body></html>
